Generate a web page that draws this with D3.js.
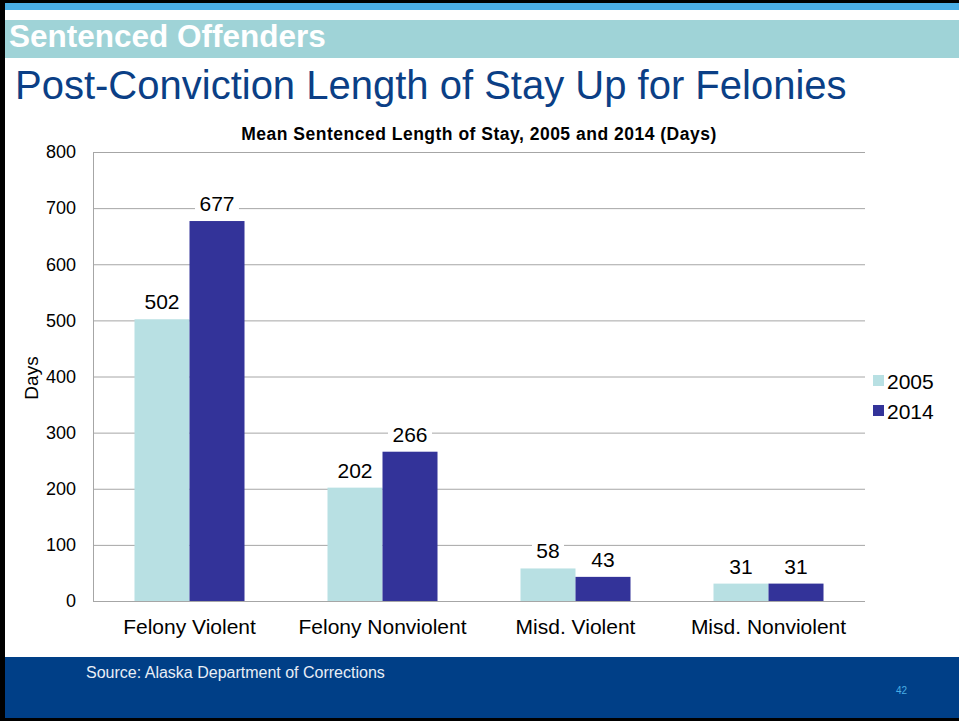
<!DOCTYPE html>
<html><head><meta charset="utf-8">
<script src="https://cdn.jsdelivr.net/npm/d3@7"></script>
<style>body{margin:0;padding:0;background:#fff;overflow:hidden}svg{display:block}text{font-family:Arial,"Liberation Sans",sans-serif}</style>
</head><body>
<svg id="c" width="959" height="721"></svg>
<script>
const categories = ["Felony Violent", "Felony Nonviolent", "Misd. Violent", "Misd. Nonviolent"];
const seriesNames = ["2005", "2014"];
const values2005 = [502, 202, 58, 31];
const values2014 = [677, 266, 43, 31];
const yTicks = [0, 100, 200, 300, 400, 500, 600, 700, 800];
const colors = ["#b8e0e3", "#333399"];

(function(){
const svg = d3.select("#c");
// slide frame
svg.append("rect").attr("x",0).attr("y",0).attr("width",959).attr("height",721).attr("fill","#fff");
svg.append("rect").attr("x",0).attr("y",0).attr("width",959).attr("height",3).attr("fill","#000");
svg.append("rect").attr("x",0).attr("y",3).attr("width",959).attr("height",7).attr("fill","#4aaee5");
svg.append("rect").attr("x",0).attr("y",20).attr("width",959).attr("height",38).attr("fill","#9fd3d7");
svg.append("rect").attr("x",0).attr("y",657).attr("width",959).attr("height",61).attr("fill","#003f87");
svg.append("rect").attr("x",0).attr("y",718).attr("width",959).attr("height",3).attr("fill","#000");
svg.append("rect").attr("x",0).attr("y",0).attr("width",5).attr("height",721).attr("fill","#000");

svg.append("text").attr("x",9).attr("y",47).attr("fill","#fff").attr("font-size",31.5).attr("font-weight","bold").text("Sentenced Offenders");
svg.append("text").attr("x",15).attr("y",99).attr("fill","#0b3f86").attr("font-size",40).text("Post-Conviction Length of Stay Up for Felonies");
svg.append("text").attr("x",86).attr("y",678).attr("fill","#e8eef6").attr("font-size",16).text("Source: Alaska Department of Corrections");
svg.append("text").attr("x",896).attr("y",694).attr("fill","#4aaee5").attr("font-size",10).text("42");

// chart
const pl = 93, pr = 865, pt = 152, pb = 601;
const y = d3.scaleLinear().domain([0, 800]).range([pb, pt]);
const x0 = d3.scaleBand().domain(categories).range([pl, pr]).padding(0);
const x1 = d3.scaleBand().domain(seriesNames).range([x0.bandwidth()*0.215, x0.bandwidth()*0.785]).padding(0);

svg.append("text").attr("x",479).attr("y",140).attr("text-anchor","middle").attr("font-size",17.5).attr("letter-spacing",0.5).attr("font-weight","bold").text("Mean Sentenced Length of Stay, 2005 and 2014 (Days)");

const yAxis = svg.append("g").attr("transform",`translate(${pl},0)`)
  .call(d3.axisLeft(y).tickValues(yTicks).tickSize(-(pr-pl)).tickPadding(17));
yAxis.select(".domain").attr("stroke","#a6a6a6");
yAxis.selectAll(".tick line").attr("stroke","#a6a6a6");
yAxis.selectAll(".tick text").attr("font-size",18).attr("fill","#000").attr("font-family","Arial,'Liberation Sans',sans-serif");

svg.append("line").attr("x1",pl).attr("x2",pr).attr("y1",pb+0.5).attr("y2",pb+0.5).attr("stroke","#a6a6a6");

svg.append("text").attr("transform","translate(38,378) rotate(-90)").attr("text-anchor","middle").attr("font-size",19).text("Days");

const data = categories.map((c,i)=>({cat:c, vals:[{s:"2005",v:values2005[i]},{s:"2014",v:values2014[i]}]}));
const groups = svg.selectAll("g.grp").data(data).join("g").attr("class","grp").attr("transform",d=>`translate(${x0(d.cat)},0)`);
groups.selectAll("rect").data(d=>d.vals).join("rect")
  .attr("x",d=>x1(d.s)).attr("width",x1.bandwidth())
  .attr("y",d=>y(d.v)).attr("height",d=>y(0)-y(d.v))
  .attr("fill",(d,i)=>colors[i]);
groups.each(function(d){
  const g = d3.select(this);
  d.vals.forEach(v=>{
    const cx = x1(v.s)+x1.bandwidth()/2;
    const by = y(v.v)-10;
    const w = String(v.v).length*12+8;
    g.append("rect").attr("x",cx-w/2).attr("y",by-18).attr("width",w).attr("height",22).attr("fill","#fff");
    g.append("text").attr("x",cx).attr("y",by).attr("text-anchor","middle").attr("font-size",21).text(v.v);
  });
});

svg.selectAll("text.cat").data(categories).join("text").attr("class","cat")
  .attr("x",d=>x0(d)+x0.bandwidth()/2).attr("y",634).attr("text-anchor","middle").attr("font-size",21).text(d=>d);

seriesNames.forEach((s,i)=>{
  svg.append("rect").attr("x",873).attr("y",375+i*30).attr("width",11).attr("height",11).attr("fill",colors[i]);
  svg.append("text").attr("x",887).attr("y",389+i*30).attr("font-size",21).text(s);
});
})();
</script>
</body></html>
